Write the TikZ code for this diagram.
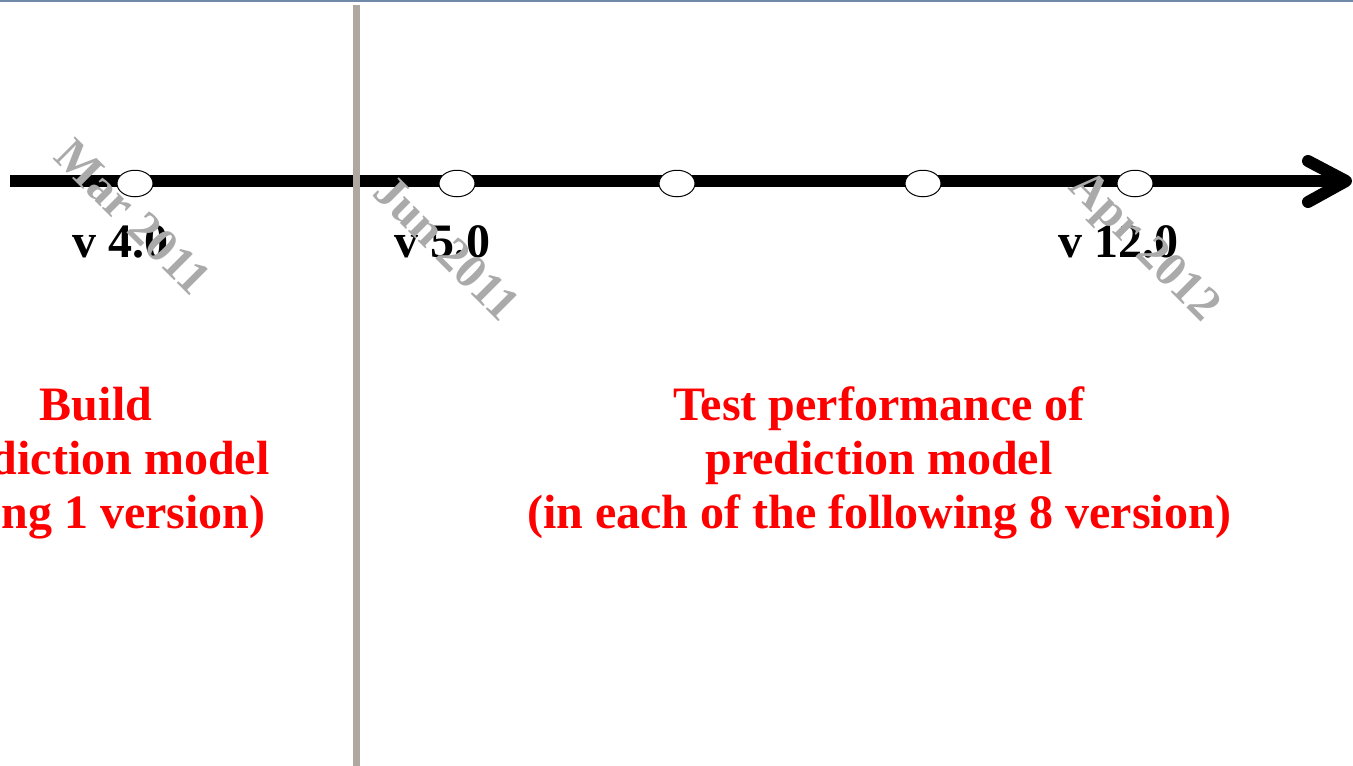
\documentclass[tikz,border=0pt]{standalone}
\usepackage{fontspec}
\setmainfont{Liberation Serif}
\usetikzlibrary{shapes.geometric}
\definecolor{topbar}{RGB}{111,137,168}
\definecolor{divider}{RGB}{174,168,160}
\definecolor{datecol}{RGB}{170,170,170}
\begin{document}
\begin{tikzpicture}[x=1pt,y=-1pt,
  verlabel/.style={font=\fontsize{48}{54}\selectfont\bfseries, anchor=base, inner sep=0pt},
  datelabel/.style={font=\fontsize{48}{54}\selectfont\bfseries, text=datecol, rotate=-45, inner sep=0pt},
  phase/.style={font=\fontsize{48}{54}\selectfont\bfseries, text=red, align=center, anchor=base, inner sep=0pt},
  milestone/.style={ellipse, draw=black, line width=1pt, fill=white, minimum width=36pt, minimum height=26.5pt, inner sep=0pt},
  axisline/.style={line width=11.5pt},
  barb/.style={line width=12pt, line cap=round, line join=round},
  dividerline/.style={divider, line width=7pt},
]
\clip (0,0) rectangle (1353,766);
\fill[white] (0,0) rectangle (1353,766);
\draw[topbar, line width=2.4pt] (0,1.2) -- (1353,1.2);
% timeline
\coordinate (tstart) at (10,181);
\coordinate (tend) at (1346,181);
\coordinate (barbU) at (1308,161);
\coordinate (barbL) at (1308,202);
\draw[axisline] (tstart) -- (tend);
\draw[barb] (barbU) -- (tend) -- (barbL);
% divider
\coordinate (dtop) at (356,5);
\coordinate (dbot) at (356,766);
\draw[dividerline] (dtop) -- (dbot);
% milestones
\node[milestone] (m1) at (135,183.5) {};
\node[milestone] (m2) at (457,183.5) {};
\node[milestone] (m3) at (677,183.5) {};
\node[milestone] (m4) at (923,183.5) {};
\node[milestone] (m5) at (1135,183.5) {};
% version labels
\node[verlabel] (l4) at (120,257) {v 4.0};
\node[verlabel] (l5) at (442,257) {v 5.0};
\node[verlabel] (l12) at (1118,257) {v 12.0};
% phase texts
\node[phase] (build) at (96,528) {Build\\prediction model\\(using 1 version)};
\node[phase] (test) at (879,528) {Test performance of\\prediction model\\(in each of the following 8 version)};
% dates
\node[datelabel] (d1) at (133,217) {Mar 2011};
\node[datelabel] (d2) at (447,248) {Jun 2011};
\node[datelabel] (d3) at (1143,248) {Apr 2012};
\end{tikzpicture}
\end{document}
